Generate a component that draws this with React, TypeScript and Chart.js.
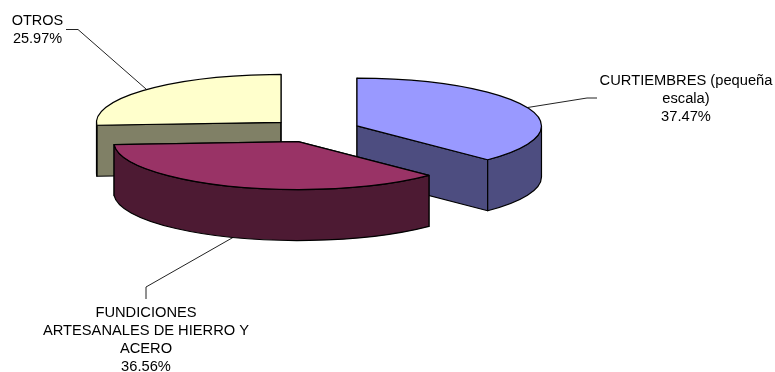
import React, { useEffect, useRef } from "react";
import { Chart, registerables } from "chart.js";

Chart.register(...registerables);

// Share of each sector, clockwise from twelve o'clock
const sectors = ["CURTIEMBRES (pequeña escala)", "FUNDICIONES ARTESANALES DE HIERRO Y ACERO", "OTROS"];
const shares = [37.47, 36.56, 25.97];

const topColors = ["#9999FF", "#993366", "#FFFFCC"];
const wallColors = ["#4D4D80", "#4D1A33", "#808066"];

// Label text broken over lines
const labelLines = [
  ["CURTIEMBRES (pequeña", "escala)"],
  ["FUNDICIONES", "ARTESANALES DE HIERRO Y", "ACERO"],
  ["OTROS"],
];
const labelCentres = [[686, 80.5], [146, 312.5], [37.5, 21]];
const labelSizes = [14.7, 14.7, 14.5];
const leaderElbows = [
  [[587, 98], [597, 98]],
  [[146, 287], [146, 299]],
  [[78, 29.5], [66, 29.5]],
];

const TILT = 48 / 185;
const DEPTH = 51;
const EXPLODE = 46;
const RADIUS = 184.5;

const pie3d = {
  id: "pie3d",
  beforeDatasetsDraw(chart: any) {
    const ctx: CanvasRenderingContext2D = chart.ctx;
    const arcs = chart.getDatasetMeta(0).data;
    const cy0 = (chart.chartArea.top + chart.chartArea.bottom) / 2;
    const slices = arcs.map((arc: any, i: number) => {
      const mid = (arc.startAngle + arc.endAngle) / 2;
      return {
        i,
        mid,
        start: arc.startAngle,
        end: arc.endAngle,
        r: arc.outerRadius,
        x: arc.x + Math.cos(mid) * EXPLODE,
        y: cy0 + Math.sin(mid) * EXPLODE * TILT,
      };
    });

    ctx.save();
    ctx.lineJoin = "round";
    ctx.strokeStyle = "#000";
    ctx.lineWidth = 1.2;

    // Leader lines sit behind the slices
    slices.forEach((s: any) => {
      const wall = Math.sin(s.mid) > 0.5 ? DEPTH : 0;
      ctx.beginPath();
      ctx.moveTo(s.x + Math.cos(s.mid) * s.r, s.y + Math.sin(s.mid) * s.r * TILT + wall);
      leaderElbows[s.i].forEach(([x, y]) => ctx.lineTo(x, y));
      ctx.save();
      ctx.strokeStyle = "#222";
      ctx.lineWidth = 1;
      ctx.stroke();
      ctx.restore();
    });

    const ell = (s: any, a: number, dy = 0): [number, number] => [
      s.x + Math.cos(a) * s.r,
      s.y + Math.sin(a) * s.r * TILT + dy,
    ];
    const rim = (s: any, from: number, to: number, dy: number) => {
      ctx.ellipse(s.x, s.y + dy, s.r, s.r * TILT, 0, from, to, to < from);
    };

    // Nearer slices are painted over farther ones
    [...slices].sort((a: any, b: any) => a.y - b.y).forEach((s: any) => {
      ctx.fillStyle = wallColors[s.i];

      // Cut faces running from the apex to each end of the arc
      [s.start, s.end].forEach((a: number) => {
        const [px, py] = ell(s, a);
        ctx.beginPath();
        ctx.moveTo(s.x, s.y);
        ctx.lineTo(px, py);
        ctx.lineTo(px, py + DEPTH);
        ctx.lineTo(s.x, s.y + DEPTH);
        ctx.closePath();
        ctx.fill();
        ctx.stroke();
      });

      // Outer wall, only the part that faces the viewer
      const from = Math.max(s.start, 0);
      const to = Math.min(s.end, Math.PI);
      if (to > from) {
        const [ax, ay] = ell(s, from);
        ctx.beginPath();
        ctx.moveTo(ax, ay);
        rim(s, from, to, 0);
        rim(s, to, from, DEPTH);
        ctx.closePath();
        ctx.fill();
        ctx.stroke();
      }

      // Top surface
      ctx.fillStyle = topColors[s.i];
      ctx.beginPath();
      ctx.moveTo(s.x, s.y);
      rim(s, s.start, s.end, 0);
      ctx.closePath();
      ctx.fill();
      ctx.stroke();
    });

    // Labels: name lines followed by the percentage
    ctx.fillStyle = "#000";
    ctx.textAlign = "center";
    ctx.textBaseline = "middle";
    const values: number[] = chart.data.datasets[0].data;
    values.forEach((v, i) => {
      const [cx, top] = labelCentres[i];
      ctx.font = `${labelSizes[i]}px "Liberation Sans", Arial, sans-serif`;
      [...labelLines[i], v.toFixed(2) + "%"].forEach((line, n) => {
        ctx.fillText(line, cx, top + n * 18.2);
      });
    });
    ctx.restore();
    return false;
  },
};

export default function App() {
  const ref = useRef<HTMLCanvasElement>(null);
  useEffect(() => {
    const chart = new Chart(ref.current!, {
      type: "pie",
      data: {
        labels: sectors,
        datasets: [{ data: shares, backgroundColor: topColors }],
      },
      options: {
        animation: false,
        responsive: false,
        events: [],
        radius: RADIUS,
        layout: { padding: { left: 0, top: 0, right: 146, bottom: 111 } },
        plugins: { legend: { display: false }, tooltip: { enabled: false } },
      } as any,
      plugins: [pie3d as any],
    });
    return () => chart.destroy();
  }, []);
  return (
    <canvas
      ref={ref}
      width={775}
      height={372}
      style={{ position: "fixed", left: 0, top: 0, display: "block" }}
    />
  );
}
